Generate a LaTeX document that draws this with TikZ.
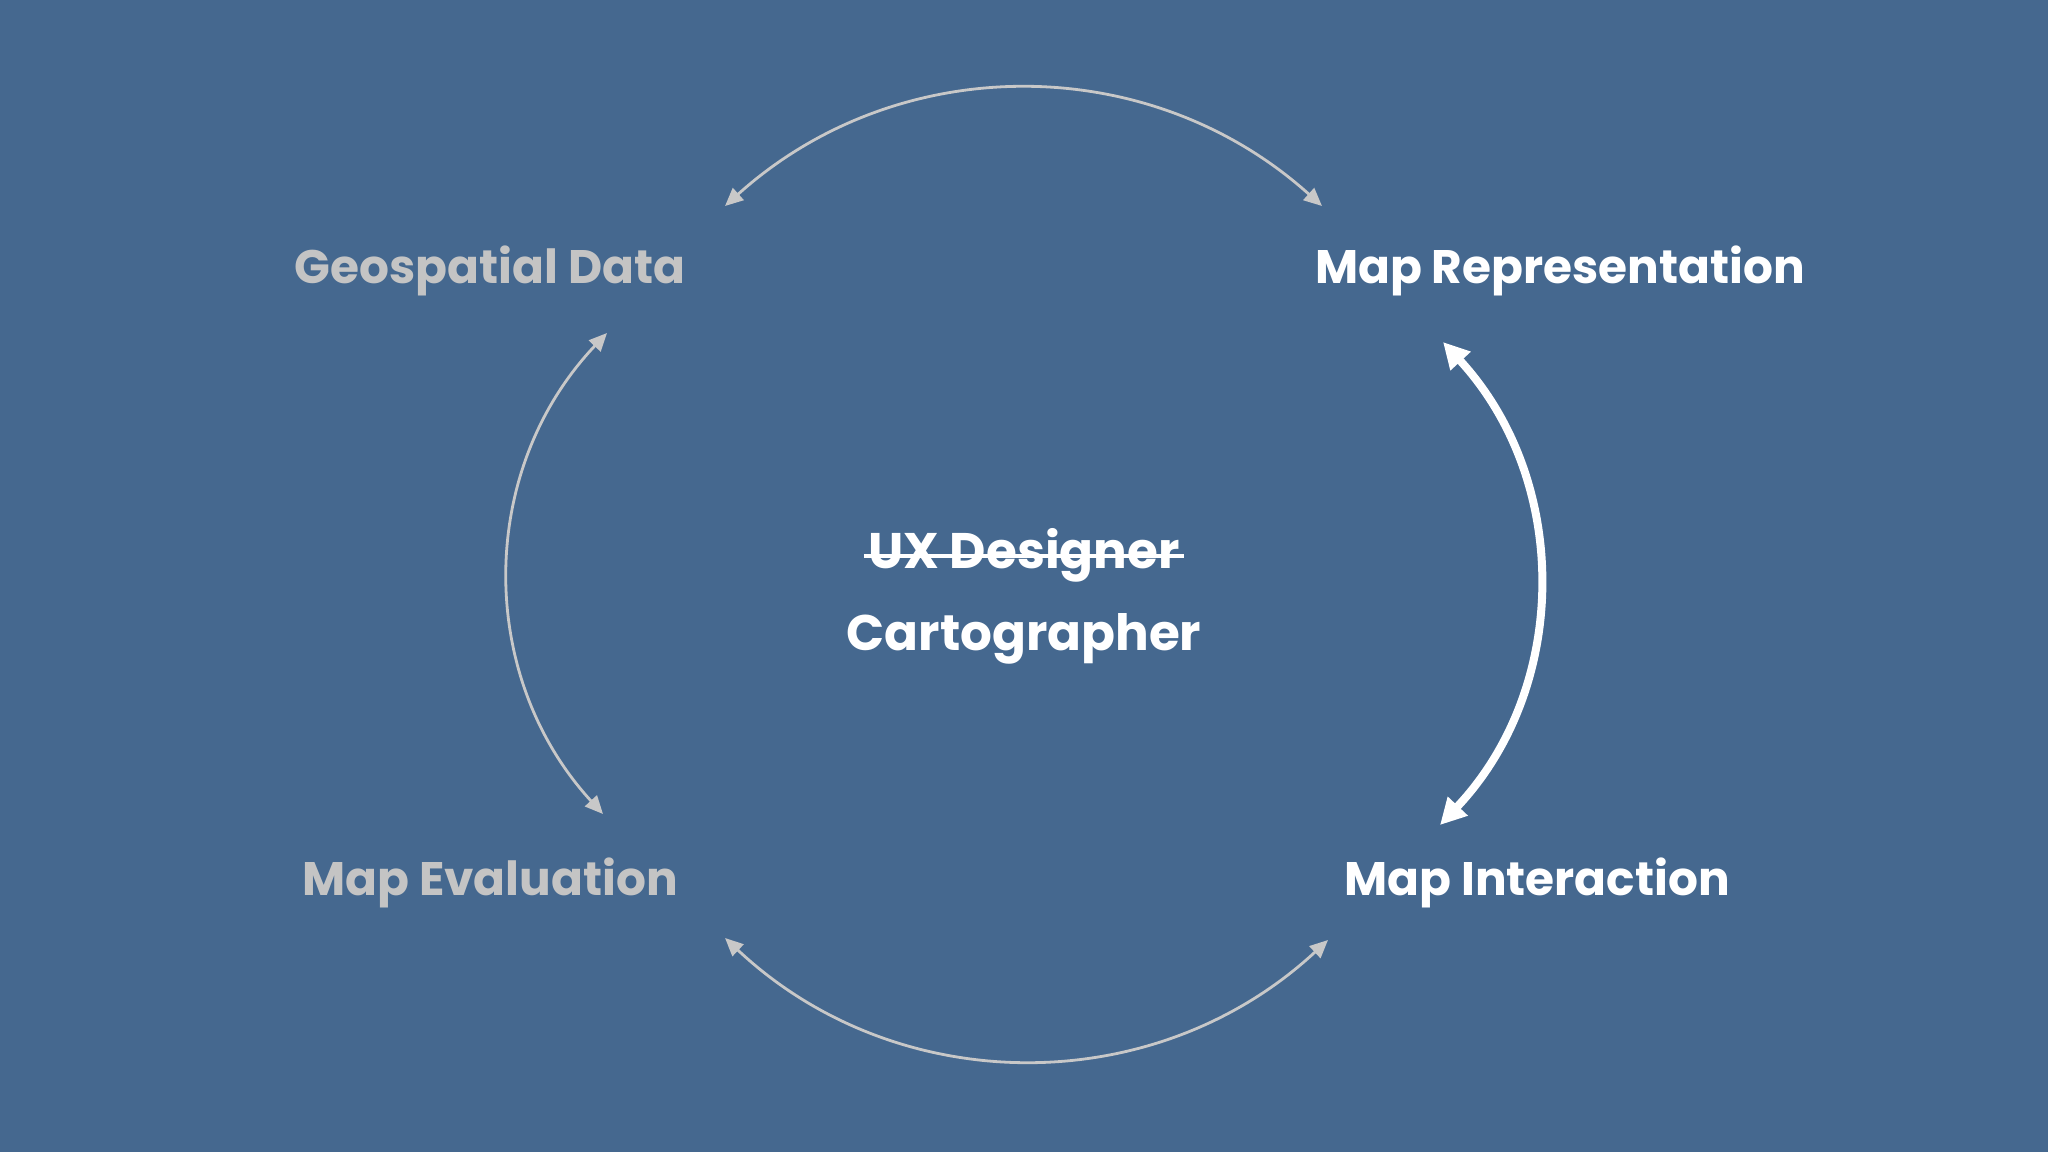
\documentclass[tikz,border=0pt]{standalone}
\usepackage{fontspec}
\setmainfont{Poppins}
\usetikzlibrary{arrows.meta,calc}
\definecolor{bg}{HTML}{45688F}
\definecolor{greytxt}{HTML}{C4C4C4}
\definecolor{greyline}{HTML}{C8C8C8}
\begin{document}
\begin{tikzpicture}[x=0.5pt,y=-0.5pt,
  lbl/.style={font=\fontsize{23.5}{28}\selectfont\bfseries, inner sep=0pt, anchor=base},
  dim/.style={lbl, text=greytxt},
  lit/.style={lbl, text=white},
  centre/.style={lit, font=\fontsize{25}{30}\selectfont\bfseries},
  thinarc/.style={draw=greyline, line width=1.4pt, {Triangle[length=9pt,width=8pt]}-{Triangle[length=9pt,width=8pt]}},
  thickarc/.style={draw=white, line width=4pt, {Triangle[length=13pt,width=13pt]}-{Triangle[length=13pt,width=13pt]}}
]
\fill[bg] (0,0) rectangle (2048,1152);
\useasboundingbox (0,0) rectangle (2048,1152);

\node[dim] (geo) at (490,283) {Geospatial Data};
\node[lit] (rep) at (1560,283) {Map Representation};
\node[dim] (eval) at (490,895) {Map Evaluation};
\node[lit] (inter) at (1537,895) {Map Interaction};
\node[centre] (ux) at (1024,568) {UX Designer};
\node[centre] (carto) at (1024,650) {Cartographer};
\draw[white, line width=1.6pt] ($(ux.base west)+(-4,-12)$) -- ($(ux.base east)+(4,-12)$);

\coordinate (t1) at (725,206);
\coordinate (t2) at (1322,206);
\coordinate (b1) at (725,938);
\coordinate (b2) at (1328,940);
\coordinate (l1) at (607,333);
\coordinate (l2) at (603,814);
\coordinate (r1) at (1443,342);
\coordinate (r2) at (1440,825);

\draw[thinarc] (t1) to[bend left=42] (t2);
\draw[thinarc] (b1) to[bend right=43] (b2);
\draw[thinarc] (l1) to[bend right=43] (l2);
\draw[thickarc] (r1) to[bend left=43] (r2);
\end{tikzpicture}
\end{document}
